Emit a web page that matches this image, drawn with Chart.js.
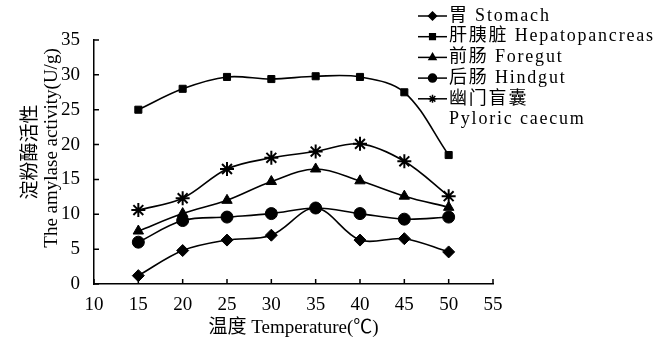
<!DOCTYPE html>
<html>
<head>
<meta charset="utf-8">
<script src="https://cdn.jsdelivr.net/npm/chart.js@4/dist/chart.umd.min.js"></script>
<style>
  html, body { margin: 0; padding: 0; background: #fff; }
  #wrap { width: 667px; height: 339px; }
</style>
</head>
<body>
<div id="wrap"><canvas id="amylase"></canvas></div>
<script>
// temperature (°C) and amylase activity (U/g) per tissue
var temps = [15, 20, 25, 30, 35, 40, 45, 50];
var stomach = [1.2, 4.8, 6.3, 7.0, 10.9, 6.3, 6.5, 4.6];
var hepatopancreas = [25.0, 28.0, 29.7, 29.4, 29.8, 29.7, 27.5, 18.5];
var foregut = [7.6, 10.1, 12.0, 14.7, 16.5, 14.8, 12.6, 11.0];
var hindgut = [6.0, 9.1, 9.6, 10.1, 10.9, 10.1, 9.3, 9.6];
var pyloric = [10.6, 12.3, 16.5, 18.1, 19.0, 20.1, 17.6, 12.6];

var seriesNames = [
    ["胃 Stomach"],
    ["肝胰脏 Hepatopancreas"],
    ["前肠 Foregut"],
    ["后肠 Hindgut"],
    ["幽门盲囊", "Pyloric caecum"]
];
var markers = ['rectRot', 'rect', 'triangle', 'circle', 'star'];
var yTitle = ['淀粉酶活性', 'The amylase activity(U/g)'];

var serif = "'Liberation Serif', 'Noto Sans CJK SC', serif";

function pts(values) {
    return values.map(function (v, i) { return { x: temps[i], y: v }; });
}

function makeSet(i, values, radius) {
    return {
        label: seriesNames[i].join(' '),
        data: pts(values),
        borderColor: '#000',
        backgroundColor: '#000',
        borderWidth: 1.6,
        pointStyle: markers[i],
        pointRadius: radius,
        pointBorderWidth: markers[i] == 'star' ? 2 : 1,
        tension: 0.35
    };
}

// short tick marks pointing into the plot
var innerTicks = {
    id: 'innerTicks',
    afterDatasetsDraw: function (chart) {
        var ctx = chart.ctx, xs = chart.scales.x, ys = chart.scales.y;
        ctx.save();
        ctx.strokeStyle = '#000';
        ctx.lineWidth = 1.5;
        ctx.beginPath();
        ys.ticks.forEach(function (t) {
            var py = ys.getPixelForValue(t.value);
            ctx.moveTo(xs.left, py);
            ctx.lineTo(xs.left + 5, py);
        });
        xs.ticks.forEach(function (t) {
            var px = xs.getPixelForValue(t.value);
            ctx.moveTo(px, ys.bottom);
            ctx.lineTo(px, ys.bottom - 5);
        });
        ctx.stroke();
        ctx.restore();
    }
};

// y title, two rotated lines, sitting a bit above the axis centre
var sideTitle = {
    id: 'sideTitle',
    afterDraw: function (chart) {
        var ctx = chart.ctx;
        var cols = [31, 52], mids = [152, 148];
        ctx.save();
        ctx.font = '19px ' + serif;
        ctx.fillStyle = '#000';
        ctx.textAlign = 'center';
        ctx.textBaseline = 'middle';
        yTitle.forEach(function (line, i) {
            ctx.save();
            ctx.translate(cols[i], mids[i]);
            ctx.rotate(-Math.PI / 2);
            ctx.fillText(line, 0, 0);
            ctx.restore();
        });
        ctx.restore();
    }
};

// legend in the top right corner
var cornerLegend = {
    id: 'cornerLegend',
    afterDraw: function (chart) {
        var ctx = chart.ctx;
        var x0 = 418, x1 = 447, y = 16, step = 20.7;
        ctx.save();
        ctx.font = '18px ' + serif;
        ctx.letterSpacing = '1.8px';
        ctx.textBaseline = 'middle';
        ctx.fillStyle = '#000';
        chart.data.datasets.forEach(function (ds, i) {
            ctx.strokeStyle = '#000';
            ctx.lineWidth = 1.5;
            ctx.beginPath();
            ctx.moveTo(x0, y);
            ctx.lineTo(x1, y);
            ctx.stroke();
            Chart.helpers.drawPoint(ctx, {
                pointStyle: ds.pointStyle,
                radius: 4,
                borderWidth: ds.pointBorderWidth
            }, (x0 + x1) / 2, y);
            seriesNames[i].forEach(function (line) {
                ctx.fillText(line, x1 + 2, y);
                y += step;
            });
        });
        ctx.restore();
    }
};

new Chart(document.getElementById('amylase').getContext('2d'), {
    type: 'line',
    data: {
        datasets: [
            makeSet(0, stomach, 6),
            makeSet(1, hepatopancreas, 5),
            makeSet(2, foregut, 6),
            makeSet(3, hindgut, 6),
            makeSet(4, pyloric, 7)
        ]
    },
    options: {
        responsive: true,
        maintainAspectRatio: false,
        animation: false,
        layout: { padding: { left: 0, top: 40, right: 174, bottom: 0 } },
        plugins: {
            legend: { display: false },
            tooltip: { enabled: false }
        },
        scales: {
            x: {
                type: 'linear',
                min: 10,
                max: 55,
                ticks: { stepSize: 5, color: '#000', padding: 2, font: { family: serif, size: 19 } },
                grid: { display: false },
                border: { color: '#000', width: 1.5 },
                title: {
                    display: true,
                    text: '温度 Temperature(℃)',
                    color: '#000',
                    padding: { top: 2, bottom: 0 },
                    font: { family: serif, size: 19 }
                },
                afterFit: function (scale) { scale.height = 55; }
            },
            y: {
                min: 0,
                max: 35,
                ticks: { stepSize: 5, color: '#000', padding: 6, font: { family: serif, size: 19 } },
                grid: { display: false },
                border: { color: '#000', width: 1.5 },
                afterFit: function (scale) { scale.width = 94; }
            }
        }
    },
    plugins: [innerTicks, sideTitle, cornerLegend]
});
</script>
</body>
</html>
